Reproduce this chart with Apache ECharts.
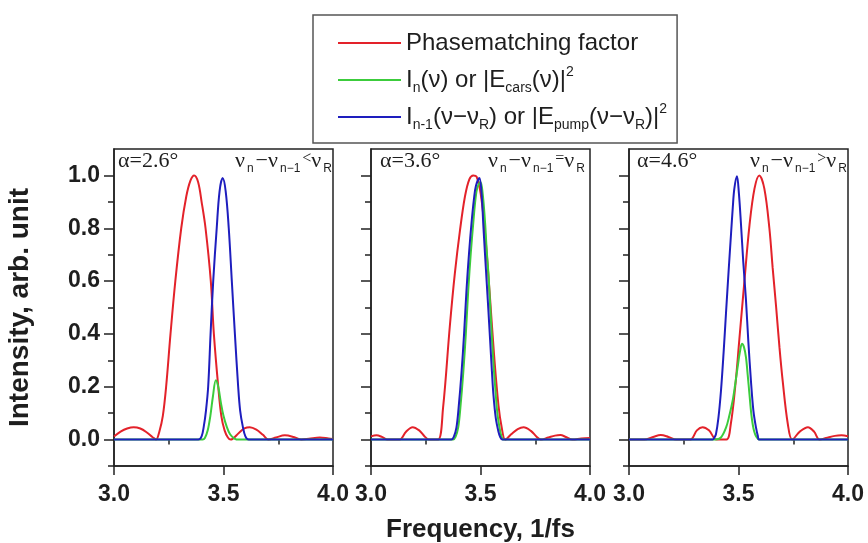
<!DOCTYPE html>
<html>
<head>
<meta charset="utf-8">
<script src="https://cdn.jsdelivr.net/npm/echarts@6/dist/echarts.min.js"></script>
<style>
  html, body { margin: 0; padding: 0; background: #ffffff; }
  #chart { width: 868px; height: 543px; }
</style>
</head>
<body>
<div id="chart"></div>
<script>
// Tick positions
const freqTicks = [3.0, 3.5, 4.0];
const freqMinorTicks = [3.25, 3.75];
const intensityTicks = [0, 0.2, 0.4, 0.6, 0.8, 1.0];
const intensityMinorTicks = [-0.1, 0.1, 0.3, 0.5, 0.7, 0.9];

// Panel annotations
const angleLabels = ['α=2.6°', 'α=3.6°', 'α=4.6°'];
const relationSigns = ['<', '=', '>'];

// Series names
const seriesNames = ['Phasematching factor', 'In(ν) or |Ecars(ν)|²', 'In-1(ν−νR) or |Epump(ν−νR)|²'];

// α = 2.6°  [frequency (1/fs), intensity]
const phase26 = [
  [3.00, 0.012], [3.03, 0.030], [3.06, 0.042], [3.09, 0.047], [3.12, 0.042], [3.15, 0.027], [3.175, 0.010], [3.192, 0.000],
  [3.207, 0.03], [3.223, 0.09], [3.238, 0.20], [3.258, 0.40], [3.280, 0.60], [3.307, 0.80], [3.330, 0.92], [3.349, 0.98], [3.366, 1.00],
  [3.384, 0.975], [3.400, 0.90], [3.418, 0.80], [3.442, 0.60], [3.456, 0.40], [3.476, 0.20], [3.490, 0.09], [3.505, 0.035], [3.520, 0.008], [3.533, 0.000],
  [3.57, 0.025], [3.595, 0.042], [3.62, 0.047], [3.65, 0.038], [3.68, 0.018], [3.705, 0.000],
  [3.74, 0.008], [3.78, 0.016], [3.82, 0.010], [3.855, 0.000], [3.89, 0.003], [3.94, 0.008], [3.98, 0.004], [4.00, 0.002]
];
const cars26 = [
  [3.00, 0], [3.20, 0], [3.405, 0], [3.415, 0.006], [3.428, 0.035], [3.44, 0.09], [3.452, 0.165], [3.465, 0.225],
  [3.476, 0.20], [3.488, 0.14], [3.50, 0.09], [3.515, 0.048], [3.53, 0.02], [3.55, 0.004], [3.57, 0], [3.80, 0], [4.00, 0]
];
const pump26 = [
  [3.00, 0], [3.20, 0], [3.385, 0], [3.40, 0.012], [3.41, 0.05], [3.42, 0.11], [3.43, 0.20], [3.441, 0.40], [3.453, 0.60],
  [3.469, 0.80], [3.482, 0.94], [3.496, 0.99], [3.51, 0.94], [3.524, 0.80], [3.538, 0.60], [3.552, 0.40], [3.567, 0.20],
  [3.576, 0.11], [3.588, 0.05], [3.60, 0.012], [3.615, 0], [3.80, 0], [4.00, 0]
];

// α = 3.6°
const phase36 = [
  [3.00, 0.012], [3.025, 0.016], [3.05, 0.010], [3.075, 0], [3.13, 0], [3.16, 0.03], [3.19, 0.047], [3.22, 0.035], [3.245, 0.012], [3.265, 0],
  [3.306, 0], [3.329, 0.12], [3.36, 0.43], [3.383, 0.63], [3.406, 0.79], [3.429, 0.92], [3.449, 0.985], [3.467, 1.00],
  [3.482, 0.995], [3.501, 0.93], [3.521, 0.78], [3.544, 0.53], [3.562, 0.32], [3.582, 0.13], [3.597, 0.045], [3.613, 0],
  [3.64, 0.02], [3.67, 0.04], [3.697, 0.047], [3.73, 0.033], [3.755, 0.012], [3.775, 0],
  [3.81, 0.008], [3.84, 0.015], [3.865, 0.017], [3.89, 0.010], [3.92, 0], [3.96, 0.004], [4.00, 0.006]
];
const cars36 = [
  [3.00, 0], [3.20, 0], [3.375, 0], [3.386, 0.01], [3.398, 0.045], [3.408, 0.12], [3.421, 0.25], [3.433, 0.40], [3.444, 0.565],
  [3.456, 0.71], [3.467, 0.82], [3.477, 0.91], [3.486, 0.955], [3.50, 0.975], [3.51, 0.93], [3.521, 0.82], [3.528, 0.72],
  [3.536, 0.63], [3.544, 0.51], [3.551, 0.40], [3.559, 0.29], [3.567, 0.20], [3.577, 0.10], [3.587, 0.045], [3.595, 0.015],
  [3.605, 0], [3.80, 0], [4.00, 0]
];
const pump36 = [
  [3.00, 0], [3.20, 0], [3.367, 0], [3.378, 0.01], [3.39, 0.045], [3.40, 0.12], [3.413, 0.25], [3.425, 0.40], [3.436, 0.565],
  [3.448, 0.71], [3.459, 0.82], [3.47, 0.91], [3.479, 0.96], [3.495, 0.99], [3.505, 0.93], [3.513, 0.81], [3.52, 0.71],
  [3.528, 0.60], [3.536, 0.49], [3.544, 0.375], [3.552, 0.26], [3.559, 0.17], [3.57, 0.08], [3.582, 0.03], [3.59, 0.01],
  [3.60, 0], [3.80, 0], [4.00, 0]
];

// α = 4.6°
const phase46 = [
  [3.00, 0], [3.07, 0], [3.11, 0.010], [3.145, 0.017], [3.18, 0.010], [3.215, 0], [3.28, 0], [3.31, 0.035], [3.336, 0.047],
  [3.365, 0.035], [3.40, 0], [3.445, 0], [3.465, 0.06], [3.485, 0.20], [3.504, 0.38], [3.527, 0.60], [3.55, 0.81],
  [3.573, 0.95], [3.595, 1.00], [3.618, 0.95], [3.641, 0.80], [3.656, 0.65], [3.672, 0.50], [3.687, 0.35], [3.702, 0.22],
  [3.725, 0.06], [3.745, 0], [3.78, 0.03], [3.817, 0.047], [3.845, 0.03], [3.87, 0], [3.90, 0.006], [3.94, 0.014],
  [3.97, 0.016], [4.00, 0.013]
];
const cars46 = [
  [3.00, 0], [3.20, 0], [3.395, 0], [3.42, 0.008], [3.443, 0.045], [3.458, 0.09], [3.473, 0.146], [3.485, 0.21], [3.496, 0.274],
  [3.506, 0.33], [3.516, 0.363], [3.525, 0.35], [3.534, 0.312], [3.542, 0.245], [3.55, 0.172], [3.558, 0.10], [3.565, 0.057],
  [3.572, 0.03], [3.58, 0.013], [3.595, 0], [3.80, 0], [4.00, 0]
];
const pump46 = [
  [3.00, 0], [3.20, 0], [3.382, 0], [3.39, 0.008], [3.397, 0.02], [3.408, 0.08], [3.42, 0.185], [3.432, 0.33], [3.443, 0.48],
  [3.455, 0.64], [3.466, 0.78], [3.474, 0.88], [3.481, 0.95], [3.493, 0.997], [3.502, 0.93], [3.511, 0.82], [3.522, 0.67],
  [3.534, 0.53], [3.545, 0.37], [3.557, 0.22], [3.568, 0.11], [3.58, 0.045], [3.588, 0.015], [3.595, 0], [3.80, 0], [4.00, 0]
];

const panelCurves = [
  [phase26, cars26, pump26],
  [phase36, cars36, pump36],
  [phase46, cars46, pump46]
];

// ---- layout and styles ----
const curveColors = ['#e3222a', '#3ccc3c', '#1e1ebe'];
const gridLefts = [114, 371, 629];
const gridTop = 149, gridWidth = 219, gridHeight = 317;
const ink = '#1e1e1e';
const sansFamily = 'Liberation Sans, Arial, sans-serif';
const serifFamily = 'Liberation Serif, Times New Roman, serif';
const sansBold = { fontFamily: sansFamily, fontWeight: 'bold', color: ink };
const axisStroke = { color: '#222', width: 1.5 };

const legendRich = {};
legendRich[seriesNames[0]] = 'Phasematching factor';
legendRich[seriesNames[1]] = 'I{s|n}(ν) or |E{s|cars}(ν)|{p|2}';
legendRich[seriesNames[2]] = 'I{s|n-1}(ν−ν{s|R}) or |E{s|pump}(ν−ν{s|R})|{p|2}';

const grids = [], xAxes = [], yAxes = [], series = [], titles = [];

gridLefts.forEach((left) => {
  grids.push({ left: left, top: gridTop, width: gridWidth, height: gridHeight, show: true,
               outerBoundsMode: 'none', containLabel: false,
               borderColor: '#222', borderWidth: 1.5, backgroundColor: 'transparent' });
});

// labelled axes with major ticks (indices 0..2)
gridLefts.forEach((left, i) => {
  xAxes.push({
    type: 'value', gridIndex: i, min: 3, max: 4, position: 'bottom',
    axisLine: { show: true, onZero: false, lineStyle: axisStroke },
    axisTick: { show: true, inside: false, length: 9, customValues: freqTicks, lineStyle: axisStroke },
    axisLabel: Object.assign({ show: true, customValues: freqTicks, margin: 17, fontSize: 23,
      formatter: v => v.toFixed(1) }, sansBold),
    splitLine: { show: false },
    name: i === 1 ? 'Frequency, 1/fs' : '',
    nameLocation: 'middle', nameGap: 51,
    nameTextStyle: Object.assign({ fontSize: 26 }, sansBold)
  });
  yAxes.push({
    type: 'value', gridIndex: i, min: -0.1, max: 1.1, position: 'left',
    axisLine: { show: true, onZero: false, lineStyle: axisStroke },
    axisTick: { show: true, inside: false, length: 10, customValues: intensityTicks, lineStyle: axisStroke },
    axisLabel: Object.assign({ show: i === 0, customValues: intensityTicks, margin: 14, fontSize: 23,
      formatter: v => v.toFixed(1) }, sansBold),
    splitLine: { show: false },
    name: i === 0 ? 'Intensity, arb. unit' : '',
    nameLocation: 'middle', nameGap: 80,
    nameTextStyle: Object.assign({ fontSize: 28 }, sansBold)
  });
});
// minor tick axes (indices 3..5)
gridLefts.forEach((left, i) => {
  xAxes.push({
    type: 'value', gridIndex: i, min: 3, max: 4, position: 'bottom',
    axisLine: { show: false },
    axisTick: { show: true, inside: false, length: 5, customValues: freqMinorTicks, lineStyle: axisStroke },
    axisLabel: { show: false }, splitLine: { show: false }
  });
  yAxes.push({
    type: 'value', gridIndex: i, min: -0.1, max: 1.1, position: 'left',
    axisLine: { show: false },
    axisTick: { show: true, inside: false, length: 6, customValues: intensityMinorTicks, lineStyle: axisStroke },
    axisLabel: { show: false }, splitLine: { show: false }
  });
});

panelCurves.forEach((curves, i) => {
  curves.forEach((data, k) => {
    series.push({
      type: 'line', name: seriesNames[k], xAxisIndex: i, yAxisIndex: i,
      data: data, smooth: 0.35, symbol: 'none', clip: true,
      lineStyle: { color: curveColors[k], width: 2 },
      itemStyle: { color: curveColors[k] },
      emphasis: { disabled: true }, z: 2 + k
    });
  });
});

// in-panel annotations
const annotLeftAngle = [118, 380, 637];
const annotLeftNu = [235, 488, 750];
gridLefts.forEach((left, i) => {
  titles.push({
    text: angleLabels[i], left: annotLeftAngle[i], top: 150, padding: 0,
    textStyle: { fontFamily: serifFamily, fontSize: 22, fontWeight: 'normal', color: ink }
  });
  titles.push({
    text: '{v|ν}{s|n}{v|−ν}{s|n−1}{o|' + relationSigns[i] + '}{v|ν}{s|R}',
    left: annotLeftNu[i], top: 149, padding: 0,
    textStyle: {
      fontFamily: serifFamily, fontWeight: 'normal', color: ink,
      rich: {
        v: { fontSize: 22, fontFamily: serifFamily, color: ink, lineHeight: 24 },
        s: { fontSize: 12, padding: [16, 2, 0, 2], fontFamily: sansFamily, color: ink, lineHeight: 24 },
        o: { fontSize: 16, padding: [0, 0, 5, 0], fontFamily: serifFamily, color: ink, lineHeight: 24 }
      }
    }
  });
});

const chart = echarts.init(document.getElementById('chart'), null, { renderer: 'canvas' });
chart.setOption({
  animation: false,
  backgroundColor: '#ffffff',
  title: titles,
  legend: {
    data: seriesNames,
    orient: 'vertical', left: 313, top: 15,
    padding: [12, 10, 10, 25],
    itemGap: 5, itemWidth: 63, itemHeight: 2,
    icon: 'rect',
    selectedMode: false,
    borderColor: '#555', borderWidth: 1.5, backgroundColor: '#ffffff',
    formatter: name => legendRich[name],
    textStyle: {
      fontFamily: sansFamily, fontSize: 24, color: ink, lineHeight: 32,
      rich: {
        s: { fontSize: 14, padding: [16, 0, 0, 0], fontFamily: sansFamily, color: ink, lineHeight: 32 },
        p: { fontSize: 14, padding: [0, 0, 16, 0], fontFamily: sansFamily, color: ink, lineHeight: 32 }
      }
    }
  },
  grid: grids,
  xAxis: xAxes,
  yAxis: yAxes,
  series: series
});
</script>
</body>
</html>
